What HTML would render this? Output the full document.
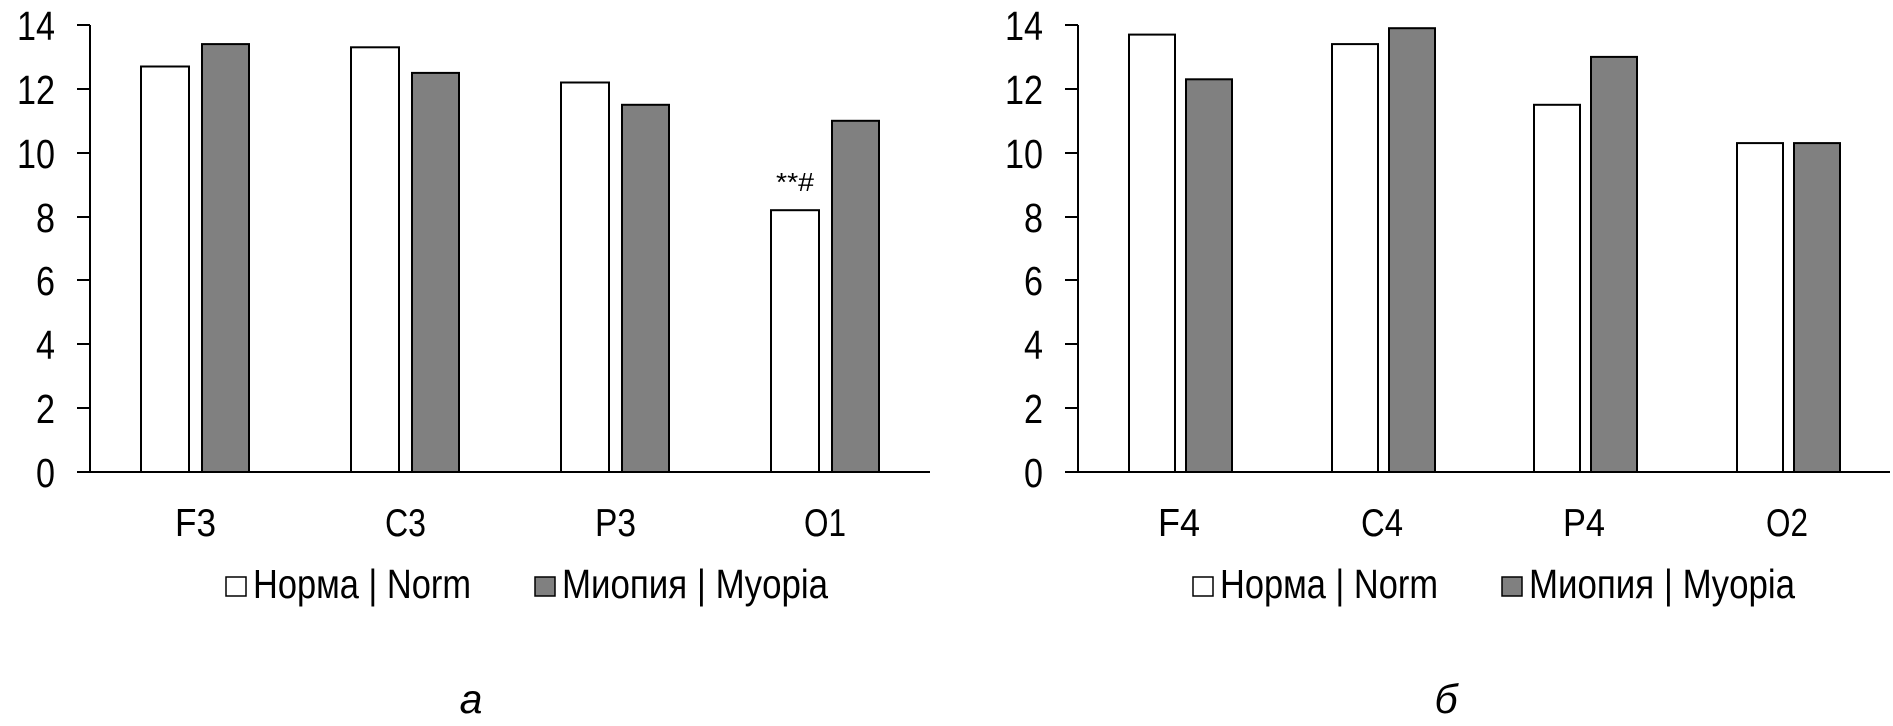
<!DOCTYPE html>
<html><head><meta charset="utf-8"><style>
html,body{margin:0;padding:0;background:#fff;}
svg{display:block;}
text{font-family:"Liberation Sans",sans-serif;fill:#000;}
</style></head><body>
<svg width="1893" height="726" viewBox="0 0 1893 726" xmlns="http://www.w3.org/2000/svg">
<g stroke="#000" stroke-width="2" fill="none">
<line x1="90" y1="25" x2="90" y2="472"/>
<line x1="77" y1="472" x2="930" y2="472"/>
<line x1="77" y1="25" x2="90" y2="25"/><line x1="77" y1="89" x2="90" y2="89"/><line x1="77" y1="153" x2="90" y2="153"/><line x1="77" y1="217" x2="90" y2="217"/><line x1="77" y1="280" x2="90" y2="280"/><line x1="77" y1="344" x2="90" y2="344"/><line x1="77" y1="408" x2="90" y2="408"/>
<line x1="1078" y1="25" x2="1078" y2="472"/>
<line x1="1065" y1="472" x2="1890" y2="472"/>
<line x1="1065" y1="25" x2="1078" y2="25"/><line x1="1065" y1="89" x2="1078" y2="89"/><line x1="1065" y1="153" x2="1078" y2="153"/><line x1="1065" y1="217" x2="1078" y2="217"/><line x1="1065" y1="280" x2="1078" y2="280"/><line x1="1065" y1="344" x2="1078" y2="344"/><line x1="1065" y1="408" x2="1078" y2="408"/>
</g>
<g stroke="#000" stroke-width="2">
<rect x="141" y="66.5" width="48" height="405.5" fill="#fff"/>
<rect x="202" y="44.1" width="47" height="427.9" fill="#808080"/>
<rect x="351" y="47.3" width="48" height="424.7" fill="#fff"/>
<rect x="412" y="72.9" width="47" height="399.1" fill="#808080"/>
<rect x="561" y="82.5" width="48" height="389.5" fill="#fff"/>
<rect x="622" y="104.8" width="47" height="367.2" fill="#808080"/>
<rect x="771" y="210.2" width="48" height="261.8" fill="#fff"/>
<rect x="832" y="120.8" width="47" height="351.2" fill="#808080"/>
<rect x="1129" y="34.6" width="46" height="437.4" fill="#fff"/>
<rect x="1186" y="79.3" width="46" height="392.7" fill="#808080"/>
<rect x="1332" y="44.1" width="46" height="427.9" fill="#fff"/>
<rect x="1389" y="28.2" width="46" height="443.8" fill="#808080"/>
<rect x="1534" y="104.8" width="46" height="367.2" fill="#fff"/>
<rect x="1591" y="56.9" width="46" height="415.1" fill="#808080"/>
<rect x="1737" y="143.1" width="46" height="328.9" fill="#fff"/>
<rect x="1794" y="143.1" width="46" height="328.9" fill="#808080"/>
<rect x="226" y="577" width="20" height="19" fill="#fff" stroke-width="1.5"/>
<rect x="535" y="577" width="20" height="19" fill="#808080" stroke-width="1.5"/>
<rect x="1193" y="577" width="20" height="19" fill="#fff" stroke-width="1.5"/>
<rect x="1502" y="577" width="20" height="19" fill="#808080" stroke-width="1.5"/>
</g>
<g font-size="41" text-anchor="end">
<text x="55" y="40" textLength="38" lengthAdjust="spacingAndGlyphs">14</text>
<text x="55" y="104" textLength="38" lengthAdjust="spacingAndGlyphs">12</text>
<text x="55" y="168" textLength="38" lengthAdjust="spacingAndGlyphs">10</text>
<text x="55" y="232" textLength="19" lengthAdjust="spacingAndGlyphs">8</text>
<text x="55" y="295" textLength="19" lengthAdjust="spacingAndGlyphs">6</text>
<text x="55" y="359" textLength="19" lengthAdjust="spacingAndGlyphs">4</text>
<text x="55" y="423" textLength="19" lengthAdjust="spacingAndGlyphs">2</text>
<text x="55" y="487" textLength="19" lengthAdjust="spacingAndGlyphs">0</text>
<text x="1043" y="40" textLength="38" lengthAdjust="spacingAndGlyphs">14</text>
<text x="1043" y="104" textLength="38" lengthAdjust="spacingAndGlyphs">12</text>
<text x="1043" y="168" textLength="38" lengthAdjust="spacingAndGlyphs">10</text>
<text x="1043" y="232" textLength="19" lengthAdjust="spacingAndGlyphs">8</text>
<text x="1043" y="295" textLength="19" lengthAdjust="spacingAndGlyphs">6</text>
<text x="1043" y="359" textLength="19" lengthAdjust="spacingAndGlyphs">4</text>
<text x="1043" y="423" textLength="19" lengthAdjust="spacingAndGlyphs">2</text>
<text x="1043" y="487" textLength="19" lengthAdjust="spacingAndGlyphs">0</text>
</g>
<g font-size="39">
<text x="175" y="536" textLength="41" lengthAdjust="spacingAndGlyphs">F3</text>
<text x="385" y="536" textLength="41" lengthAdjust="spacingAndGlyphs">C3</text>
<text x="595" y="536" textLength="41" lengthAdjust="spacingAndGlyphs">P3</text>
<text x="804" y="536" textLength="42" lengthAdjust="spacingAndGlyphs">O1</text>
<text x="1158" y="536" textLength="42" lengthAdjust="spacingAndGlyphs">F4</text>
<text x="1361" y="536" textLength="42" lengthAdjust="spacingAndGlyphs">C4</text>
<text x="1563" y="536" textLength="42" lengthAdjust="spacingAndGlyphs">P4</text>
<text x="1766" y="536" textLength="42" lengthAdjust="spacingAndGlyphs">O2</text>
</g>
<text x="776" y="191" font-size="26" textLength="38" lengthAdjust="spacingAndGlyphs">**#</text>
<g font-size="41">
<text x="253" y="598" textLength="218" lengthAdjust="spacingAndGlyphs">Норма | Norm</text>
<text x="562" y="598" textLength="266" lengthAdjust="spacingAndGlyphs">Миопия | Myopia</text>
<text x="1220" y="598" textLength="218" lengthAdjust="spacingAndGlyphs">Норма | Norm</text>
<text x="1529" y="598" textLength="266" lengthAdjust="spacingAndGlyphs">Миопия | Myopia</text>
</g>
<text x="471" y="713" font-size="41" font-style="italic" text-anchor="middle">а</text>
<text x="1446" y="713" font-size="41" font-style="italic" text-anchor="middle">б</text>
</svg>
</body></html>
